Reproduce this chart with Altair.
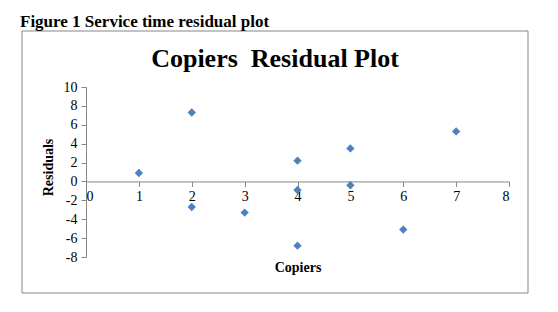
import altair as alt
import pandas as pd

# Residuals of the service-time regression, by number of copiers serviced
copiers = [1, 2, 2, 3, 4, 4, 4, 5, 5, 6, 7]
residuals = [0.9, 7.3, -2.7, -3.3, 2.2, -0.9, -6.8, 3.5, -0.4, -5.1, 5.3]

df = pd.DataFrame({"Copiers": copiers, "Residuals": residuals})

W, H = 423, 170
Y_MIN, Y_MAX = -8, 10
zero_from_bottom = H * (0 - Y_MIN) / (Y_MAX - Y_MIN)

serif = "Liberation Serif"
axis_gray = "#868686"

points = alt.Chart(df).mark_point(
    shape="diamond", filled=True, size=70, color="#4F81BD", opacity=1
).encode(
    x=alt.X(
        "Copiers:Q",
        scale=alt.Scale(domain=[0, 8], nice=False, zero=False),
        axis=alt.Axis(
            values=list(range(0, 9)), grid=False, offset=-zero_from_bottom,
            domainColor=axis_gray, tickColor=axis_gray, tickSize=5,
            labelFont=serif, labelFontSize=14, labelColor="#000",
            labelPadding=3, labelExpr="datum.value + ''",
            title="Copiers", titleFont=serif,
            titleFontSize=14, titleFontWeight="bold", titleColor="#000",
            titleY=86, titleBaseline="middle",
        ),
    ),
    y=alt.Y(
        "Residuals:Q",
        scale=alt.Scale(domain=[Y_MIN, Y_MAX], nice=False, zero=False),
        axis=alt.Axis(
            values=list(range(Y_MIN, Y_MAX + 1, 2)), grid=False,
            domainColor=axis_gray, tickColor=axis_gray, tickSize=5,
            labelFont=serif, labelFontSize=14, labelColor="#000",
            labelPadding=4, labelExpr="datum.value + ''",
            title="Residuals", titleFont=serif,
            titleFontSize=14, titleFontWeight="bold", titleColor="#000",
            titlePadding=8, titleY=80,
        ),
    ),
)

# Outer frame around the chart
frame = alt.Chart(pd.DataFrame({"a": [0]})).mark_rect(
    fill=None, stroke=axis_gray, strokeWidth=1
).encode(
    x=alt.value(-64), x2=alt.value(442), y=alt.value(-56), y2=alt.value(206)
)

chart_title = alt.Chart(pd.DataFrame({"t": ["Copiers\u00a0 Residual Plot"]})).mark_text(
    font=serif, fontSize=26, fontWeight="bold", color="#000", baseline="alphabetic"
).encode(text="t:N", x=alt.value(189), y=alt.value(-20))

caption = alt.Chart(pd.DataFrame({"t": ["Figure 1 Service time residual plot"]})).mark_text(
    font=serif, fontSize=17, fontWeight="bold", color="#000",
    baseline="alphabetic", align="left"
).encode(text="t:N", x=alt.value(-66), y=alt.value(-60))

chart = alt.layer(frame, points, chart_title, caption).properties(
    width=W, height=H,
    autosize=alt.AutoSizeParams(type="none"),
    padding={"left": 86, "top": 87, "right": 49, "bottom": 55},
    background="white",
).configure_view(stroke=None)

chart.save("out.html", embed_options={"renderer": "svg", "actions": False})
